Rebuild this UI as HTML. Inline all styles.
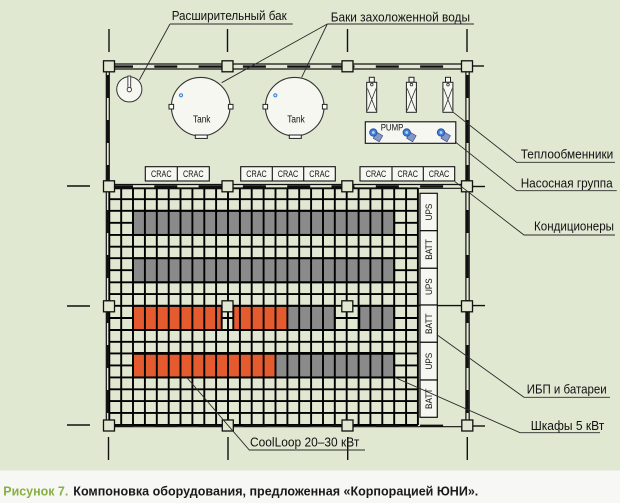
<!DOCTYPE html>
<html><head><meta charset="utf-8">
<style>
html,body{margin:0;padding:0;background:#f7f7f5;}
svg{display:block}
text{font-family:"Liberation Sans Narrow","Liberation Sans",sans-serif;}
</style></head><body>
<svg width="620" height="503" viewBox="0 0 620 503" xmlns="http://www.w3.org/2000/svg">
<rect width="620" height="503" fill="#f7f7f5"/>
<rect width="620" height="470.5" fill="#e0e8d2"/>

<!-- bars fill -->
<g>
<rect x="133" y="210.8" width="261.2" height="24.1" fill="#8a8a8a"/>
<rect x="133" y="258.2" width="261.2" height="24.1" fill="#8a8a8a"/>
<rect x="133" y="305.8" width="88.7" height="24.2" fill="#e35b2e"/>
<rect x="233.3" y="305.8" width="54.1" height="24.2" fill="#e35b2e"/>
<rect x="287.4" y="305.8" width="47.4" height="24.2" fill="#8a8a8a"/>
<rect x="359.3" y="305.8" width="34.9" height="24.2" fill="#8a8a8a"/>
<rect x="133" y="353.4" width="142.5" height="24" fill="#e35b2e"/>
<rect x="275.5" y="353.4" width="118.7" height="24" fill="#8a8a8a"/>
</g>

<!-- grid -->
<path fill="none" stroke="#000" stroke-width="1.9" d="
M109.3 188.3V425 M121.2 188.3V425 M133 188.3V425 M144.9 188.3V425 M156.8 188.3V425 M168.7 188.3V425 M180.5 188.3V425 M192.4 188.3V425 M204.3 188.3V425 M216.1 188.3V425 M228 188.3V425 M239.9 188.3V425 M251.7 188.3V425 M263.6 188.3V425 M275.5 188.3V425 M287.4 188.3V425 M299.2 188.3V425 M311.1 188.3V425 M323 188.3V425 M334.8 188.3V425 M346.7 188.3V425 M358.6 188.3V425 M370.4 188.3V425 M382.3 188.3V425 M394.2 188.3V425 M406.1 188.3V425 M417.9 188.3V425
M109.3 188.3H417.9 M109.3 199.2H417.9 M109.3 210.8H417.9
M109.3 222.8H133 M394.2 222.8H417.9
M109.3 234.9H417.9 M109.3 246.7H417.9 M109.3 258.2H417.9
M109.3 270.2H133 M394.2 270.2H417.9
M109.3 282.3H417.9 M109.3 294.1H417.9 M109.3 305.8H417.9
M109.3 318H133 M221.7 318H233.3 M334.8 318H359.3 M394.2 318H417.9
M109.3 330H417.9 M109.3 341.8H417.9 M109.3 353.4H417.9
M109.3 365.4H133 M394.2 365.4H417.9
M109.3 377.4H417.9 M109.3 389.3H417.9 M109.3 401.1H417.9 M109.3 412.9H417.9 M109.3 425H417.9"/>

<!-- bar outlines -->
<g fill="none" stroke="#000" stroke-width="1.9">
<rect x="133" y="210.8" width="261.2" height="24.1"/>
<rect x="133" y="258.2" width="261.2" height="24.1"/>
<rect x="133" y="305.8" width="88.7" height="24.2"/>
<rect x="233.3" y="305.8" width="101.5" height="24.2"/>
<rect x="359.3" y="305.8" width="34.9" height="24.2"/>
<rect x="133" y="353.4" width="261.2" height="24"/>
<line x1="133" y1="353.4" x2="394.2" y2="353.4" stroke-width="2.8"/>
</g>

<!-- walls -->
<g fill="none" stroke="#111" stroke-width="1.2">
<path d="M106.3 64H469.2V426.7H106.3Z"/>
<path d="M109.3 69H465.9V424.8"/>
<path d="M109.3 69V188"/>
<line x1="109.3" y1="184.5" x2="465.9" y2="184.5"/>
<line x1="109.3" y1="188.3" x2="465.9" y2="188.3"/>
</g>
<g fill="none" stroke="#111" stroke-width="2.4">
<line x1="110" y1="66.6" x2="465" y2="66.6" stroke-dasharray="23 21.3"/>
<line x1="110" y1="186.4" x2="465" y2="186.4" stroke-dasharray="23 21.3"/>
<line x1="110" y1="425.8" x2="465" y2="425.8" stroke-dasharray="23 21.3"/>
<line x1="107.8" y1="75" x2="107.8" y2="424" stroke-dasharray="23 22"/>
<line x1="467.5" y1="75" x2="467.5" y2="424" stroke-dasharray="23 22"/>
</g>
<line x1="417.9" y1="305.6" x2="485" y2="305.6" stroke="#111" stroke-width="1.4"/>

<!-- axis ticks -->
<g stroke="#111" stroke-width="1.4">
<line x1="109" y1="29" x2="109" y2="52"/>
<line x1="227.5" y1="29" x2="227.5" y2="52"/>
<line x1="347.5" y1="29" x2="347.5" y2="52"/>
<line x1="467" y1="29" x2="467" y2="52"/>
<line x1="108.5" y1="437" x2="108.5" y2="460"/>
<line x1="228" y1="437" x2="228" y2="460"/>
<line x1="347.7" y1="437" x2="347.7" y2="460"/>
<line x1="467.3" y1="437" x2="467.3" y2="460"/>
<line x1="67" y1="186" x2="90" y2="186"/>
<line x1="67" y1="306" x2="90" y2="306"/>
<line x1="67" y1="425" x2="90" y2="425"/>
<line x1="472" y1="66" x2="484" y2="66"/>
<line x1="472" y1="186.5" x2="485" y2="186.5"/>
<line x1="472" y1="426" x2="485" y2="426"/>
</g>

<!-- squares -->
<g fill="#e0e8d2" stroke="#111" stroke-width="1.3">
<rect x="103.5" y="60.8" width="11" height="11"/>
<rect x="222" y="60.8" width="11" height="11"/>
<rect x="342" y="60.8" width="11" height="11"/>
<rect x="461.5" y="60.8" width="11" height="11"/>
<rect x="103.5" y="180.8" width="11" height="11"/>
<rect x="222" y="180.8" width="11" height="11"/>
<rect x="341.8" y="180.8" width="11" height="11"/>
<rect x="461.5" y="180.8" width="11" height="11"/>
<rect x="103.5" y="300.8" width="11" height="11"/>
<rect x="222" y="300.8" width="11" height="11"/>
<rect x="341.8" y="300.8" width="11" height="11"/>
<rect x="461.5" y="300.8" width="11" height="11"/>
<rect x="103.5" y="420" width="11" height="11"/>
<rect x="222.3" y="420" width="11" height="11"/>
<rect x="342" y="420" width="11" height="11"/>
<rect x="461.8" y="420" width="11" height="11"/>
</g>

<!-- UPS / BATT column -->
<g fill="#f6f7f1" stroke="#111" stroke-width="1.2">
<rect x="420" y="193.3" width="17.3" height="37.4"/>
<rect x="420" y="230.7" width="17.3" height="37.6"/>
<rect x="420" y="268.3" width="17.3" height="36.7"/>
<rect x="420" y="305" width="17.3" height="37.3"/>
<rect x="420" y="342.3" width="17.3" height="37.7"/>
<rect x="420" y="380" width="17.3" height="37.3"/>
</g>
<g font-size="9.5" fill="#111" text-anchor="middle">
<text transform="translate(432.2,212) rotate(-90)" textLength="16.7" lengthAdjust="spacingAndGlyphs">UPS</text>
<text transform="translate(432.2,249.5) rotate(-90)" textLength="20.5" lengthAdjust="spacingAndGlyphs">BATT</text>
<text transform="translate(432.2,286.7) rotate(-90)" textLength="16.7" lengthAdjust="spacingAndGlyphs">UPS</text>
<text transform="translate(432.2,323.7) rotate(-90)" textLength="20.5" lengthAdjust="spacingAndGlyphs">BATT</text>
<text transform="translate(432.2,361.2) rotate(-90)" textLength="16.7" lengthAdjust="spacingAndGlyphs">UPS</text>
<text transform="translate(432.2,398.7) rotate(-90)" textLength="20.5" lengthAdjust="spacingAndGlyphs">BATT</text>
</g>

<!-- CRAC units -->
<g fill="#f6f7f1" stroke="#111" stroke-width="1.1">
<rect x="145.3" y="166.7" width="64" height="14.3"/>
<line x1="177.3" y1="166.7" x2="177.3" y2="181"/>
<rect x="240.7" y="166.7" width="94.6" height="14.3"/>
<line x1="272.3" y1="166.7" x2="272.3" y2="181"/>
<line x1="303.7" y1="166.7" x2="303.7" y2="181"/>
<rect x="360" y="166.7" width="94.7" height="14.3"/>
<line x1="392" y1="166.7" x2="392" y2="181"/>
<line x1="423.3" y1="166.7" x2="423.3" y2="181"/>
</g>
<g font-size="9.5" fill="#111" text-anchor="middle">
<text x="161.3" y="177.2" textLength="20.5" lengthAdjust="spacingAndGlyphs">CRAC</text>
<text x="193.3" y="177.2" textLength="20.5" lengthAdjust="spacingAndGlyphs">CRAC</text>
<text x="256.5" y="177.2" textLength="20.5" lengthAdjust="spacingAndGlyphs">CRAC</text>
<text x="288" y="177.2" textLength="20.5" lengthAdjust="spacingAndGlyphs">CRAC</text>
<text x="319.5" y="177.2" textLength="20.5" lengthAdjust="spacingAndGlyphs">CRAC</text>
<text x="376" y="177.2" textLength="20.5" lengthAdjust="spacingAndGlyphs">CRAC</text>
<text x="407.7" y="177.2" textLength="20.5" lengthAdjust="spacingAndGlyphs">CRAC</text>
<text x="439" y="177.2" textLength="20.5" lengthAdjust="spacingAndGlyphs">CRAC</text>
</g>

<!-- expansion tank -->
<circle cx="129.3" cy="89.3" r="12.6" fill="#f6f7f1" stroke="#333" stroke-width="1"/>
<rect x="127.9" y="76" width="2.8" height="13" fill="#fff" stroke="#333" stroke-width="0.9"/>
<circle cx="129.3" cy="89.6" r="2.2" fill="#fff" stroke="#333" stroke-width="0.9"/>

<!-- tanks -->
<g stroke="#333" stroke-width="1.1" fill="#f6f7f1">
<circle cx="200.7" cy="106.7" r="29.3"/>
<circle cx="294.7" cy="106.7" r="29.3"/>
</g>
<g stroke="#222" stroke-width="1" fill="#fff">
<rect x="169" y="104.4" width="4.6" height="4.6"/>
<rect x="228.4" y="104.4" width="4.6" height="4.6"/>
<rect x="195.3" y="135" width="12" height="3.4"/>
<rect x="263" y="104.4" width="4.6" height="4.6"/>
<rect x="322.4" y="104.4" width="4.6" height="4.6"/>
<rect x="289.3" y="135" width="12" height="3.4"/>
</g>
<circle cx="181" cy="95.3" r="1.6" fill="#d5e6f8" stroke="#2f7fd5" stroke-width="1"/>
<circle cx="275.3" cy="95.3" r="1.6" fill="#d5e6f8" stroke="#2f7fd5" stroke-width="1"/>
<g font-size="10" fill="#111" text-anchor="middle">
<text x="201.7" y="122.5" textLength="17.5" lengthAdjust="spacingAndGlyphs">Tank</text>
<text x="296" y="122.5" textLength="17.5" lengthAdjust="spacingAndGlyphs">Tank</text>
</g>

<!-- heat exchangers -->
<g fill="#f6f7f1" stroke="#222" stroke-width="1">
<rect x="369.3" y="77.3" width="5" height="5"/>
<rect x="366.7" y="82.3" width="10" height="30"/>
<rect x="409" y="77.3" width="5" height="5"/>
<rect x="406.4" y="82.3" width="10" height="30"/>
<rect x="445.5" y="77.3" width="5" height="5"/>
<rect x="442.9" y="82.3" width="10" height="30"/>
</g>
<g fill="none" stroke="#333" stroke-width="0.8">
<circle cx="371.8" cy="84.6" r="1.3"/>
<path d="M367.5 88.5L376 110.5M376 88.5L367.5 110.5"/>
<circle cx="411.5" cy="84.6" r="1.3"/>
<path d="M407.2 88.5L415.7 110.5M415.7 88.5L407.2 110.5"/>
<circle cx="448" cy="84.6" r="1.3"/>
<path d="M443.7 88.5L452.2 110.5M452.2 88.5L443.7 110.5"/>
</g>

<!-- pump group -->
<rect x="365.3" y="121.8" width="90.5" height="21.5" fill="#f6f7f1" stroke="#111" stroke-width="1.1"/>
<text x="380.7" y="130.5" font-size="9" fill="#111" textLength="22.7" lengthAdjust="spacingAndGlyphs">PUMP</text>
<g>
<rect x="-3.5" y="-3.5" width="7" height="7" transform="translate(378,137) rotate(30)" fill="#8595c6" stroke="#33478a" stroke-width="0.6"/>
<circle cx="373.3" cy="132.5" r="3.7" fill="#3f7fd8" stroke="#1d4a95" stroke-width="0.8"/>
<circle cx="373.3" cy="132.5" r="1.4" fill="#b8d4f4"/>
<rect x="-3.5" y="-3.5" width="7" height="7" transform="translate(411.4,137) rotate(30)" fill="#8595c6" stroke="#33478a" stroke-width="0.6"/>
<circle cx="406.7" cy="132.5" r="3.7" fill="#3f7fd8" stroke="#1d4a95" stroke-width="0.8"/>
<circle cx="406.7" cy="132.5" r="1.4" fill="#b8d4f4"/>
<rect x="-3.5" y="-3.5" width="7" height="7" transform="translate(445.7,137) rotate(30)" fill="#8595c6" stroke="#33478a" stroke-width="0.6"/>
<circle cx="441" cy="132.5" r="3.7" fill="#3f7fd8" stroke="#1d4a95" stroke-width="0.8"/>
<circle cx="441" cy="132.5" r="1.4" fill="#b8d4f4"/>
</g>

<!-- leader lines -->
<g fill="none" stroke="#2a2a2a" stroke-width="0.9">
<path d="M170 24L139.3 80"/>
<path d="M170 24H292.7"/>
<path d="M327.3 24L221.7 82.7M327.3 24L301.7 77.3"/>
<path d="M327.3 24H474"/>
<path d="M453.3 112.3L516.7 162.3H615"/>
<path d="M455 141.7L516.7 190.7H616.7"/>
<path d="M455 181.7L524 235H615"/>
<path d="M437.3 335L524 397.3H610"/>
<path d="M395 377.5L520 432.7H600"/>
<path d="M186.7 377.4L249.3 450H365"/>
</g>

<!-- labels -->
<g font-size="12.5" fill="#111">
<text x="171.7" y="20" textLength="115" lengthAdjust="spacingAndGlyphs">Расширительный бак</text>
<text x="330.7" y="21.5" textLength="139.3" lengthAdjust="spacingAndGlyphs">Баки захоложенной воды</text>
<text x="520.7" y="158.3" textLength="92.6" lengthAdjust="spacingAndGlyphs">Теплообменники</text>
<text x="520.7" y="187.3" textLength="92" lengthAdjust="spacingAndGlyphs">Насосная группа</text>
<text x="534" y="230.7" textLength="80" lengthAdjust="spacingAndGlyphs">Кондиционеры</text>
<text x="526.7" y="393.3" textLength="80" lengthAdjust="spacingAndGlyphs">ИБП и батареи</text>
<text x="530.7" y="430" textLength="73.6" lengthAdjust="spacingAndGlyphs">Шкафы 5 кВт</text>
<text x="250" y="446.5" textLength="109.3" lengthAdjust="spacingAndGlyphs">CoolLoop 20–30 кВт</text>
</g>

<!-- caption -->
<g font-size="12.5" font-weight="bold">
<text x="3.3" y="495.5" fill="#86b040" textLength="65" lengthAdjust="spacingAndGlyphs">Рисунок 7.</text>
<text x="73.3" y="495.5" fill="#1a1a1a" textLength="405" lengthAdjust="spacingAndGlyphs">Компоновка оборудования, предложенная «Корпорацией ЮНИ».</text>
</g>
</svg>
</body></html>
